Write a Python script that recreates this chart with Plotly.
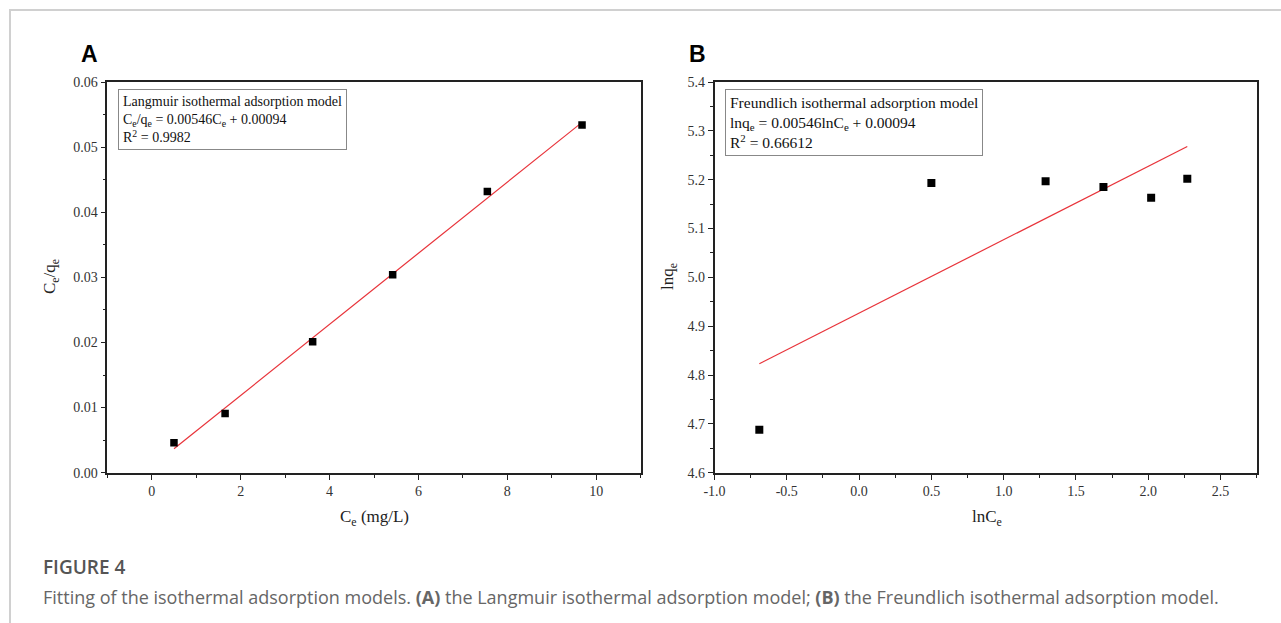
import plotly.graph_objects as go

W, H = 1281, 623

# ---- data ----
ce = [0.50, 1.65, 3.62, 5.42, 7.55, 9.68]
ce_qe = [0.0046, 0.0091, 0.0201, 0.0304, 0.0432, 0.0534]
lang_fit_x = [0.50, 9.68]
lang_fit_y = [0.00367, 0.0538]

ln_ce = [-0.69, 0.50, 1.29, 1.69, 2.02, 2.27]
ln_qe = [4.688, 5.193, 5.197, 5.185, 5.163, 5.202]
freu_fit_x = [-0.69, 2.27]
freu_fit_y = [4.823, 5.268]

a_xticks = [0, 2, 4, 6, 8, 10]
a_yticks = [0.00, 0.01, 0.02, 0.03, 0.04, 0.05, 0.06]
a_ytext = ["0.00", "0.01", "0.02", "0.03", "0.04", "0.05", "0.06"]
b_xticks = [-1.0, -0.5, 0.0, 0.5, 1.0, 1.5, 2.0, 2.5]
b_xtext = ["-1.0", "-0.5", "0.0", "0.5", "1.0", "1.5", "2.0", "2.5"]
b_yticks = [4.6, 4.7, 4.8, 4.9, 5.0, 5.1, 5.2, 5.3, 5.4]
b_ytext = ["4.6", "4.7", "4.8", "4.9", "5.0", "5.1", "5.2", "5.3", "5.4"]


def px(x):
    return x / W


def py(y):
    return 1 - y / H


SERIF = "Liberation Serif"
fig = go.Figure()

fig.add_trace(go.Scatter(x=lang_fit_x, y=lang_fit_y, mode="lines",
                         line=dict(color="#e8333a", width=1.2), xaxis="x", yaxis="y", showlegend=False))
fig.add_trace(go.Scatter(x=ce, y=ce_qe, mode="markers",
                         marker=dict(symbol="square", size=7.5, color="black"), xaxis="x", yaxis="y", showlegend=False))
fig.add_trace(go.Scatter(x=freu_fit_x, y=freu_fit_y, mode="lines",
                         line=dict(color="#e8333a", width=1.2), xaxis="x2", yaxis="y2", showlegend=False))
fig.add_trace(go.Scatter(x=ln_ce, y=ln_qe, mode="markers",
                         marker=dict(symbol="square", size=8, color="black"), xaxis="x2", yaxis="y2", showlegend=False))

axis_common = dict(showline=True, linecolor="#222", linewidth=1.6, mirror=True, ticks="outside",
                   ticklen=5, tickwidth=1.3, tickcolor="#222", showgrid=False, zeroline=False,
                   automargin=False,
                   tickfont=dict(family=SERIF, size=14, color="#333"))
minor = dict(ticks="outside", ticklen=3, tickcolor="#222", tickwidth=1.2)

ydom = [py(472.7), py(82.0)]
fig.update_layout(
    width=W, height=H, margin=dict(l=0, r=0, t=0, b=0, pad=0), autosize=False,
    paper_bgcolor="white", plot_bgcolor="white",
    xaxis=dict(domain=[px(107.3), px(640.7)], range=[-1, 11], tickvals=a_xticks,
               minor=dict(dtick=1, **minor), anchor="y", **axis_common),
    yaxis=dict(domain=ydom, range=[0, 0.06], tickvals=a_yticks, ticktext=a_ytext,
               minor=dict(dtick=0.005, **minor), anchor="x", **axis_common),
    xaxis2=dict(domain=[px(714.5), px(1256.7)], range=[-1, 2.75], tickvals=b_xticks, ticktext=b_xtext,
                minor=dict(dtick=0.25, **minor), anchor="y2", **axis_common),
    yaxis2=dict(domain=ydom, range=[4.6, 5.4], tickvals=b_yticks, ticktext=b_ytext,
                minor=dict(dtick=0.05, **minor), anchor="x2", **axis_common),
)

ann = []
# panel letters
ann.append(dict(text="<b>A</b>", x=px(89.7), y=py(54), xref="paper", yref="paper", showarrow=False,
                xanchor="center", yanchor="middle",
                font=dict(family="Liberation Sans", size=23, color="black")))
ann.append(dict(text="<b>B</b>", x=px(697), y=py(54), xref="paper", yref="paper", showarrow=False,
                xanchor="center", yanchor="middle",
                font=dict(family="Liberation Sans", size=23, color="black")))
# model boxes
ann.append(dict(text="Langmuir isothermal adsorption model<br>C<sub>e</sub>/q<sub>e</sub> = 0.00546C<sub>e</sub> + 0.00094<br>R<sup>2</sup> = 0.9982",
                x=px(117.8), y=py(89.3), xref="paper", yref="paper", xanchor="left", yanchor="top",
                align="left", showarrow=False, bordercolor="#888", borderwidth=1, borderpad=4,
                bgcolor="white", font=dict(family=SERIF, size=14, color="#111")))
ann.append(dict(text="Freundlich isothermal adsorption model<br>lnq<sub>e</sub> = 0.00546lnC<sub>e</sub> + 0.00094<br>R<sup>2</sup> = 0.66612",
                x=px(725), y=py(89.3), xref="paper", yref="paper", xanchor="left", yanchor="top",
                align="left", showarrow=False, bordercolor="#888", borderwidth=1, borderpad=4,
                bgcolor="white", font=dict(family=SERIF, size=15.5, color="#111")))
# axis titles
ann.append(dict(text="C<sub>e</sub>/q<sub>e</sub>", x=px(51), y=py(277), xref="paper", yref="paper",
                showarrow=False, textangle=-90, xanchor="center", yanchor="middle",
                font=dict(family=SERIF, size=17, color="#222")))
ann.append(dict(text="C<sub>e</sub> (mg/L)", x=px(374), y=py(518), xref="paper", yref="paper",
                showarrow=False, xanchor="center", yanchor="middle",
                font=dict(family=SERIF, size=17, color="#222")))
ann.append(dict(text="lnq<sub>e</sub>", x=px(669), y=py(277), xref="paper", yref="paper",
                showarrow=False, textangle=-90, xanchor="center", yanchor="middle",
                font=dict(family=SERIF, size=17, color="#222")))
ann.append(dict(text="lnC<sub>e</sub>", x=px(987), y=py(518), xref="paper", yref="paper",
                showarrow=False, xanchor="center", yanchor="middle",
                font=dict(family=SERIF, size=17, color="#222")))
# caption
ann.append(dict(text="FIGURE 4", x=px(41), y=py(567), xref="paper", yref="paper", xanchor="left",
                yanchor="middle", showarrow=False,
                font=dict(family="Open Sans", size=19, color="#555", weight=600)))
ann.append(dict(text="Fitting of the isothermal adsorption models. <b>(A)</b> the Langmuir isothermal adsorption model; "
                     "<b>(B)</b> the Freundlich isothermal adsorption model.",
                x=px(41), y=py(597), xref="paper", yref="paper", xanchor="left", yanchor="middle",
                showarrow=False, font=dict(family="Open Sans", size=18, color="#666")))
fig.update_layout(annotations=ann)

# page frame lines
fig.add_shape(type="line", xref="paper", yref="paper", x0=px(9), x1=1, y0=py(10), y1=py(10),
              line=dict(color="#d0d0d0", width=2))
fig.add_shape(type="line", xref="paper", yref="paper", x0=px(10), x1=px(10), y0=py(10), y1=0,
              line=dict(color="#d0d0d0", width=2))

fig.write_html("out.html")
